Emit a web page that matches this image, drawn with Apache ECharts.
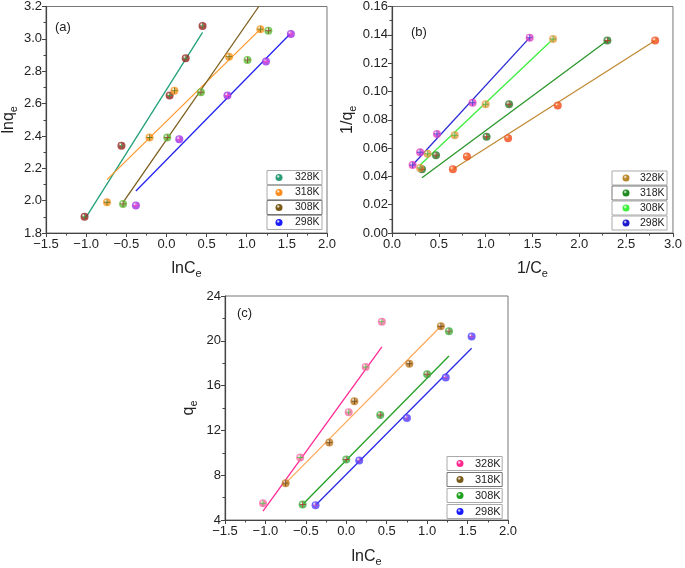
<!DOCTYPE html>
<html><head><meta charset="utf-8">
<script src="https://cdn.jsdelivr.net/npm/echarts@6/dist/echarts.min.js"></script>
<style>html,body{margin:0;padding:0;background:#fff}#c{width:685px;height:568px}</style>
</head><body><div id="c"></div>
<script>
const FONT = 'Liberation Sans, Arial, sans-serif';
const temps = ['328K', '318K', '308K', '298K'];

// ---- Panel (a): ln qe vs ln Ce ----
const a_x_328 = [-1.02, -0.56, 0.04, 0.24, 0.45];
const a_y_328 = [1.90, 2.34, 2.65, 2.88, 3.08];
const a_fit_328 = [[-1.01, 1.89], [0.45, 3.04]];
const a_x_318 = [-0.74, -0.21, 0.10, 0.78, 1.17];
const a_y_318 = [1.99, 2.39, 2.68, 2.89, 3.06];
const a_fit_318 = [[-0.74, 2.13], [1.17, 3.06]];
const a_x_308 = [-0.54, 0.01, 0.43, 1.01, 1.27];
const a_y_308 = [1.98, 2.39, 2.67, 2.87, 3.05];
const a_fit_308 = [[-0.54, 1.99], [1.15, 3.2]];
const a_x_298 = [-0.38, 0.16, 0.76, 1.24, 1.55];
const a_y_298 = [1.97, 2.38, 2.65, 2.86, 3.03];
const a_fit_298 = [[-0.38, 2.06], [1.54, 3.03]];

// ---- Panel (b): 1/qe vs 1/Ce ----
const b_x_328 = [0.65, 0.80, 1.24, 1.77, 2.81];
const b_y_328 = [0.045, 0.054, 0.067, 0.090, 0.136];
const b_fit_328 = [[0.65, 0.045], [2.81, 0.136]];
const b_x_318 = [0.32, 0.47, 1.01, 1.25, 2.30];
const b_y_318 = [0.045, 0.055, 0.068, 0.091, 0.136];
const b_fit_318 = [[0.32, 0.039], [2.30, 0.136]];
const b_x_308 = [0.30, 0.38, 0.67, 1.00, 1.72];
const b_y_308 = [0.046, 0.056, 0.069, 0.091, 0.137];
const b_fit_308 = [[0.30, 0.048], [1.72, 0.137]];
const b_x_298 = [0.22, 0.30, 0.48, 0.86, 1.47];
const b_y_298 = [0.048, 0.057, 0.070, 0.092, 0.138];
const b_fit_298 = [[0.22, 0.048], [1.47, 0.138]];

// ---- Panel (c): qe vs ln Ce ----
const c_x_328 = [-1.03, -0.57, 0.03, 0.24, 0.44];
const c_y_328 = [5.50, 9.58, 13.63, 17.66, 21.71];
const c_fit_328 = [[-1.03, 4.79], [0.44, 19.45]];
const c_x_318 = [-0.75, -0.21, 0.10, 0.78, 1.17];
const c_y_318 = [7.29, 10.93, 14.60, 17.95, 21.30];
const c_fit_318 = [[-0.75, 7.29], [1.17, 21.30]];
const c_x_308 = [-0.54, 0.00, 0.42, 1.00, 1.27];
const c_y_308 = [5.38, 9.40, 13.37, 17.01, 20.86];
const c_fit_308 = [[-0.54, 5.38], [1.27, 18.65]];
const c_x_298 = [-0.38, 0.16, 0.75, 1.23, 1.55];
const c_y_298 = [5.32, 9.32, 13.10, 16.72, 20.39];
const c_fit_298 = [[-0.38, 5.32], [1.55, 19.33]];

// axis ticks [min, max, interval]
const a_xTicks = [-1.5, 2.0, 0.5];
const a_yTicks = [1.8, 3.2, 0.2];
const b_xTicks = [0, 3.0, 0.5];
const b_yTicks = [0, 0.16, 0.02];
const c_xTicks = [-1.5, 2.0, 0.5];
const c_yTicks = [4, 24, 4];

function pairs(xs, ys) { return xs.map((x, i) => [x, ys[i]]); }
function sphere(base) {
  return { type: 'radial', x: 0.38, y: 0.35, r: 0.75,
    colorStops: [{ offset: 0, color: '#ffffff' }, { offset: 0.35, color: base }, { offset: 1, color: base }] };
}
function fmt(d) { return v => { const s = Math.abs(v).toFixed(d); return v < -1e-9 ? '\u2212' + s : s; }; }

const nameRich = {
  m: { fontSize: 16, fontFamily: FONT, color: '#222' },
  s: { fontSize: 11, fontFamily: FONT, color: '#222', padding: [9, 0, 0, 0] }
};

function xAxis(gi, t, d, name, gap) {
  return { type: 'value', gridIndex: gi, min: t[0], max: t[1], interval: t[2],
    name: name, nameLocation: 'middle', nameGap: gap, nameTextStyle: { rich: nameRich },
    axisLine: { show: true, onZero: false, lineStyle: { color: '#444', width: 1.2 } },
    axisTick: { show: true, length: 4, lineStyle: { color: '#444' } },
    minorTick: { show: true, splitNumber: 2, length: 2.5, lineStyle: { color: '#444' } },
    splitLine: { show: false },
    axisLabel: { fontSize: 13, color: '#222', fontFamily: FONT, margin: 5, formatter: fmt(d) } };
}
function yAxis(gi, t, d, name, gap) {
  return { type: 'value', gridIndex: gi, min: t[0], max: t[1], interval: t[2],
    name: name, nameLocation: 'middle', nameGap: gap, nameRotate: 90, nameTextStyle: { rich: nameRich },
    axisLine: { show: true, onZero: false, lineStyle: { color: '#444', width: 1.2 } },
    axisTick: { show: true, length: 4, lineStyle: { color: '#444' } },
    minorTick: { show: true, splitNumber: 2, length: 2.5, lineStyle: { color: '#444' } },
    splitLine: { show: false },
    axisLabel: { fontSize: 13, color: '#222', fontFamily: FONT, margin: 4, formatter: fmt(d) } };
}

const series = [];
function addSet(gi, name, xs, ys, fit, lineColor, markColor, crossColor) {
  series.push({ type: 'line', name: name, xAxisIndex: gi, yAxisIndex: gi, data: fit,
    symbol: 'none', silent: true, z: 2, lineStyle: { color: lineColor, width: 1.3 } });
  series.push({ type: 'scatter', name: name, xAxisIndex: gi, yAxisIndex: gi, data: pairs(xs, ys),
    symbol: 'circle', symbolSize: 8, z: 3, itemStyle: { color: sphere(markColor) } });
  series.push({ type: 'scatter', name: name + '+', xAxisIndex: gi, yAxisIndex: gi, data: pairs(xs, ys),
    symbol: 'path://M3.4,0h1.2v8h-1.2z M0,3.4h8v1.2h-8z', symbolSize: 6, z: 4, silent: true,
    itemStyle: { color: crossColor, opacity: 0.8 } });
}
// (a)
addSet(0, temps[0], a_x_328, a_y_328, a_fit_328, '#22a07a', '#9a1f1f', '#3c9a3c');
addSet(0, temps[1], a_x_318, a_y_318, a_fit_318, '#ff9a30', '#f7941d', '#4a6a10');
addSet(0, temps[2], a_x_308, a_y_308, a_fit_308, '#7b5d1c', '#60bb38', '#8a3a20');
addSet(0, temps[3], a_x_298, a_y_298, a_fit_298, '#2424f0', '#9a30e8', '#ff40c0');
// (b)
addSet(1, temps[0], b_x_328, b_y_328, b_fit_328, '#c08a34', '#f04818', '#f07a30');
addSet(1, temps[1], b_x_318, b_y_318, b_fit_318, '#2a962a', '#2a7a2a', '#c03020');
addSet(1, temps[2], b_x_308, b_y_308, b_fit_308, '#3ded3d', '#e89c40', '#40b040');
addSet(1, temps[3], b_x_298, b_y_298, b_fit_298, '#2a2ad8', '#e040c0', '#3040e0');
// (c)
addSet(2, temps[0], c_x_328, c_y_328, c_fit_328, '#ff2b95', '#ff6aa8', '#40c840');
addSet(2, temps[1], c_x_318, c_y_318, c_fit_318, '#ffab5e', '#c07a20', '#5a3a10');
addSet(2, temps[2], c_x_308, c_y_308, c_fit_308, '#22a022', '#40b040', '#b03030');
addSet(2, temps[3], c_x_298, c_y_298, c_fit_298, '#2a2ae8', '#4a40ff', '#c040c0');

function legendBox(name, color, left, top, padL, textPad, padR, fs, bc) {
  return { data: [{ name: name, icon: 'circle', itemStyle: { color: sphere(color) } }],
    left: left, top: top, orient: 'horizontal', itemWidth: 7, itemHeight: 7,
    padding: [1.5, padR, 1.5, padL], borderColor: bc || '#aaa', borderWidth: 1, selectedMode: false,
    textStyle: { fontSize: fs, color: '#222', fontFamily: FONT, padding: [0, 0, 0, textPad] } };
}
const legA = ['#2a9d74', '#ff8c1a', '#7a5a14', '#1a1aff'];
const legB = ['#b8862b', '#1f8a1f', '#3cf03c', '#1a1acc'];
const legC = ['#ff2a90', '#7a5a18', '#20a020', '#1a1aff'];
const topsAB = [170.5, 185.5, 200.5, 215.5];
const topsC = [456.5, 472.5, 488.5, 504.5];
const legends = [];
temps.forEach((t, i) => {
  legends.push(legendBox(t, legA[i], 267, topsAB[i], 8.5, 7.5, 2.5, 10.5, i === 2 ? '#777' : '#aaa'));
  legends.push(legendBox(t, legB[i], 612, topsAB[i] + 0.5, 10.5, 5.5, 2.5, 10.5, i === 1 ? '#777' : '#aaa'));
  legends.push(legendBox(t, legC[i], 447, topsC[i], 9.5, 6.5, 1.5, 11, i === 1 ? '#777' : '#aaa'));
});

const chart = echarts.init(document.getElementById('c'), null, { renderer: 'canvas' });
chart.setOption({
  backgroundColor: '#fff',
  animation: false,
  textStyle: { fontFamily: FONT },
  title: [
    { text: '(a)', left: 55, top: 21, padding: 0, textStyle: { fontSize: 13, fontWeight: 'normal', color: '#222', fontFamily: FONT } },
    { text: '(b)', left: 411, top: 26, padding: 0, textStyle: { fontSize: 13, fontWeight: 'normal', color: '#222', fontFamily: FONT } },
    { text: '(c)', left: 237, top: 307, padding: 0, textStyle: { fontSize: 13, fontWeight: 'normal', color: '#222', fontFamily: FONT } }
  ],
  grid: [
    { left: 44, top: 6, width: 283, height: 227, show: true, borderColor: '#777', borderWidth: 1 },
    { left: 392, top: 6, width: 284, height: 227, show: true, borderColor: '#777', borderWidth: 1 },
    { left: 225, top: 296, width: 283, height: 227, show: true, borderColor: '#777', borderWidth: 1 }
  ],
  xAxis: [
    xAxis(0, a_xTicks, 1, '{m|lnC}{s|e}', 26),
    xAxis(1, b_xTicks, 1, '{m|1/C}{s|e}', 26),
    xAxis(2, c_xTicks, 1, '{m|lnC}{s|e}', 27)
  ],
  yAxis: [
    yAxis(0, a_yTicks, 1, '{m|lnq}{s|e}', 27),
    yAxis(1, b_yTicks, 2, '{m|1/q}{s|e}', 34),
    yAxis(2, c_yTicks, 0, '{m|q}{s|e}', 26)
  ],
  legend: legends,
  series: series
});
</script></body></html>
